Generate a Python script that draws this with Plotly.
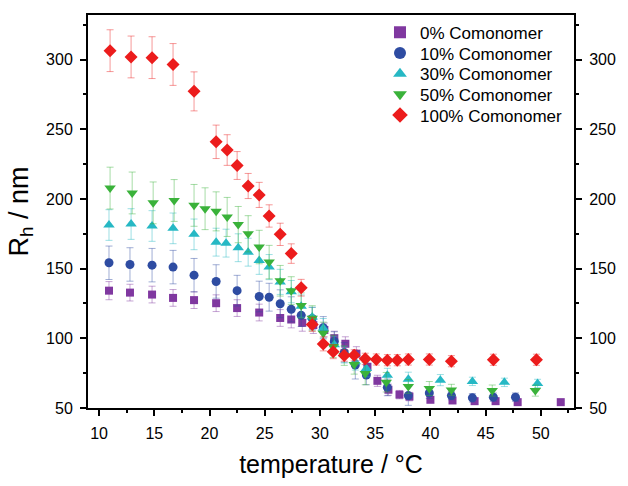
import plotly.graph_objects as go

# Hydrodynamic radius vs temperature for different comonomer contents
T0 = [10.9, 12.8, 14.8, 16.7, 18.6, 20.6, 22.5, 24.5, 26.4, 27.4, 28.4, 29.4, 30.4, 31.3,
      32.3, 33.3, 34.3, 35.2, 36.2, 37.2, 38.1, 40.0, 42.0, 44.0, 45.9, 47.9, 51.8]
R0 = [134.2, 132.8, 131.4, 129.0, 127.4, 125.2, 121.7, 118.5, 114.6, 113.5, 111.1, 109.5,
      106.0, 100.1, 96.1, 89.0, 79.6, 69.5, 63.1, 59.6, 58.2, 55.9, 55.4, 54.9, 54.9, 54.2, 54.2]
E0 = [6.5, 6, 6, 6, 6, 6, 6, 6, 6, 6, 6, 6, 5, 5, 5, 5, 5, 4, 4, 3, 3, 2, 2, 2, 2, 2, 1]

T10 = [10.9, 12.8, 14.8, 16.7, 18.6, 20.6, 22.5, 24.5, 25.4, 26.4, 27.4, 28.3, 29.3, 30.3,
       31.3, 32.2, 33.2, 34.2, 36.1, 38.0, 39.9, 41.9, 43.8, 45.7, 47.7]
R10 = [154.2, 153.0, 152.5, 151.1, 145.3, 140.8, 134.2, 130.0, 129.5, 124.8, 120.8, 116.5,
       114.2, 107.6, 97.7, 89.9, 80.8, 73.7, 64.8, 58.9, 60.8, 58.9, 57.3, 57.8, 57.8]
E10 = [12, 12, 12, 12, 12, 12, 11, 11, 10, 10, 9, 8, 8, 8, 7, 7, 10, 7, 6, 7, 4, 3, 3, 3, 3]

T30 = [10.9, 12.9, 14.8, 16.7, 18.6, 20.6, 21.5, 22.6, 23.5, 24.5, 25.4, 26.4, 27.4, 28.3,
       29.3, 30.3, 31.3, 32.2, 33.2, 34.2, 36.1, 38.0, 40.9, 43.8, 46.7, 49.7]
R30 = [181.3, 182.0, 180.6, 178.9, 174.6, 169.0, 168.3, 165.0, 161.8, 155.9, 151.1, 140.5,
       133.5, 123.1, 115.3, 107.2, 95.4, 88.3, 83.2, 78.4, 73.5, 70.7, 70.0, 69.1, 68.4, 67.6]
E30 = [11, 11, 11, 11, 11, 10, 10, 10, 10, 10, 9, 9, 8, 8, 7, 7, 6, 6, 6, 6, 5, 5, 4, 3, 3, 3]

T50 = [11.0, 13.0, 14.9, 16.8, 18.6, 19.6, 20.6, 21.6, 22.6, 23.5, 24.5, 25.4, 26.4, 27.4,
       28.3, 29.3, 30.3, 31.2, 32.2, 33.1, 34.1, 36.0, 38.0, 39.9, 41.9, 45.6, 49.5]
R50 = [207.8, 204.3, 197.2, 198.9, 195.4, 193.0, 191.1, 187.1, 181.6, 175.0, 165.5, 154.7,
       141.3, 134.2, 123.6, 114.4, 103.6, 94.2, 87.6, 81.3, 74.7, 68.5, 65.5, 64.0, 63.0, 62.5, 62.5]
E50 = [15, 15, 15, 15, 15, 15, 14, 14, 13, 13, 12, 12, 11, 10, 9, 9, 8, 8, 7, 7, 8, 7, 5, 5, 4, 4, 4]

T100 = [11.0, 12.9, 14.8, 16.7, 18.6, 20.6, 21.6, 22.5, 23.5, 24.5, 25.4, 26.4, 27.4, 28.3,
        29.3, 30.3, 31.2, 32.2, 33.1, 34.1, 35.1, 36.1, 37.0, 38.0, 39.9, 41.9, 45.7, 49.6]
R100 = [306.4, 301.9, 301.4, 296.5, 277.2, 241.0, 235.1, 224.0, 209.3, 202.9, 187.8, 174.6,
        160.8, 136.3, 110.0, 96.0, 90.4, 87.6, 87.8, 85.3, 84.8, 84.3, 84.3, 84.8, 84.8, 83.6, 84.6, 84.6]
E100 = [15, 15, 15, 15, 14, 12, 11, 10, 9, 9, 8, 8, 7, 6, 5, 5, 5, 4, 4, 4, 4, 4, 4, 4, 4, 4, 4, 4]

series = [
    ("0% Comonomer", T0, R0, E0, "square", 8, (128, 56, 160)),
    ("10% Comonomer", T10, R10, E10, "circle", 9, (46, 76, 162)),
    ("30% Comonomer", T30, R30, E30, "triangle-up", 10, (38, 184, 196)),
    ("50% Comonomer", T50, R50, E50, "triangle-down", 10, (58, 178, 58)),
    ("100% Comonomer", T100, R100, E100, "diamond", 10, (236, 28, 28)),
]

FONT = "Liberation Sans, Arial, sans-serif"
W, H = 628, 486
ML, MR, MT, MB = 88, 44, 15, 72
plot_h = H - MT - MB
plot_w = W - ML - MR

fig = go.Figure()
legend_layouts = {}
for i, (name, t, r, e, sym, size, (cr, cg, cb)) in enumerate(series):
    lg = "legend" if i == 0 else f"legend{i + 1}"
    fig.add_trace(go.Scatter(
        x=t, y=r, name=name, mode="markers", legend=lg,
        marker=dict(symbol=sym, size=size, color=f"rgb({cr},{cg},{cb})", line=dict(width=0)),
        error_y=dict(type="data", array=e, visible=True, thickness=1, width=3.5,
                     color=f"rgba({cr},{cg},{cb},0.45)"),
    ))
    # one legend per entry, stacked with a tight 21 px row pitch
    row_px = 33 + 21 * i
    legend_layouts[lg] = dict(
        x=(406 - 20 - ML) / plot_w, y=(H - MB - row_px) / plot_h,
        xanchor="left", yanchor="middle",
        bgcolor="rgba(0,0,0,0)", borderwidth=0,
        font=dict(family=FONT, size=17, color="black"),
        itemsizing="constant",
    )

# invisible trace so the right-hand axis is drawn
fig.add_trace(go.Scatter(x=[None], y=[None], yaxis="y2", showlegend=False, hoverinfo="skip"))

YR = [50, 332]
axis_common = dict(
    showline=True, linecolor="black", linewidth=2, ticks="outside", ticklen=6,
    tickwidth=1.5, tickcolor="black", showgrid=False, zeroline=False,
    tickfont=dict(family=FONT, size=16, color="black"),
)
minor_y = dict(ticks="outside", ticklen=3, dtick=25, tick0=0, tickcolor="black", tickwidth=1.5)

fig.update_layout(
    width=W, height=H,
    margin=dict(l=ML, r=MR, t=MT, b=MB),
    paper_bgcolor="white", plot_bgcolor="white",
    font=dict(family=FONT, color="black"),
    xaxis=dict(
        range=[9.0, 53.0], dtick=5, tick0=0, mirror=True,
        minor=dict(ticks="outside", ticklen=3, dtick=2.5, tick0=0, tickcolor="black", tickwidth=1.5),
        title=dict(text="temperature / °C", font=dict(family=FONT, size=25), standoff=14),
        ticklabelstandoff=4,
        **axis_common,
    ),
    yaxis=dict(
        range=YR, dtick=50, tick0=0, minor=minor_y,
        title=dict(text="R<sub>h</sub> / nm", font=dict(family=FONT, size=27), standoff=10),
        ticklabelstandoff=4,
        **axis_common,
    ),
    yaxis2=dict(
        range=YR, dtick=50, tick0=0, overlaying="y", side="right", minor=minor_y,
        ticklabelstandoff=4,
        **axis_common,
    ),
    showlegend=True,
    **legend_layouts,
)

fig.write_html("out.html")
